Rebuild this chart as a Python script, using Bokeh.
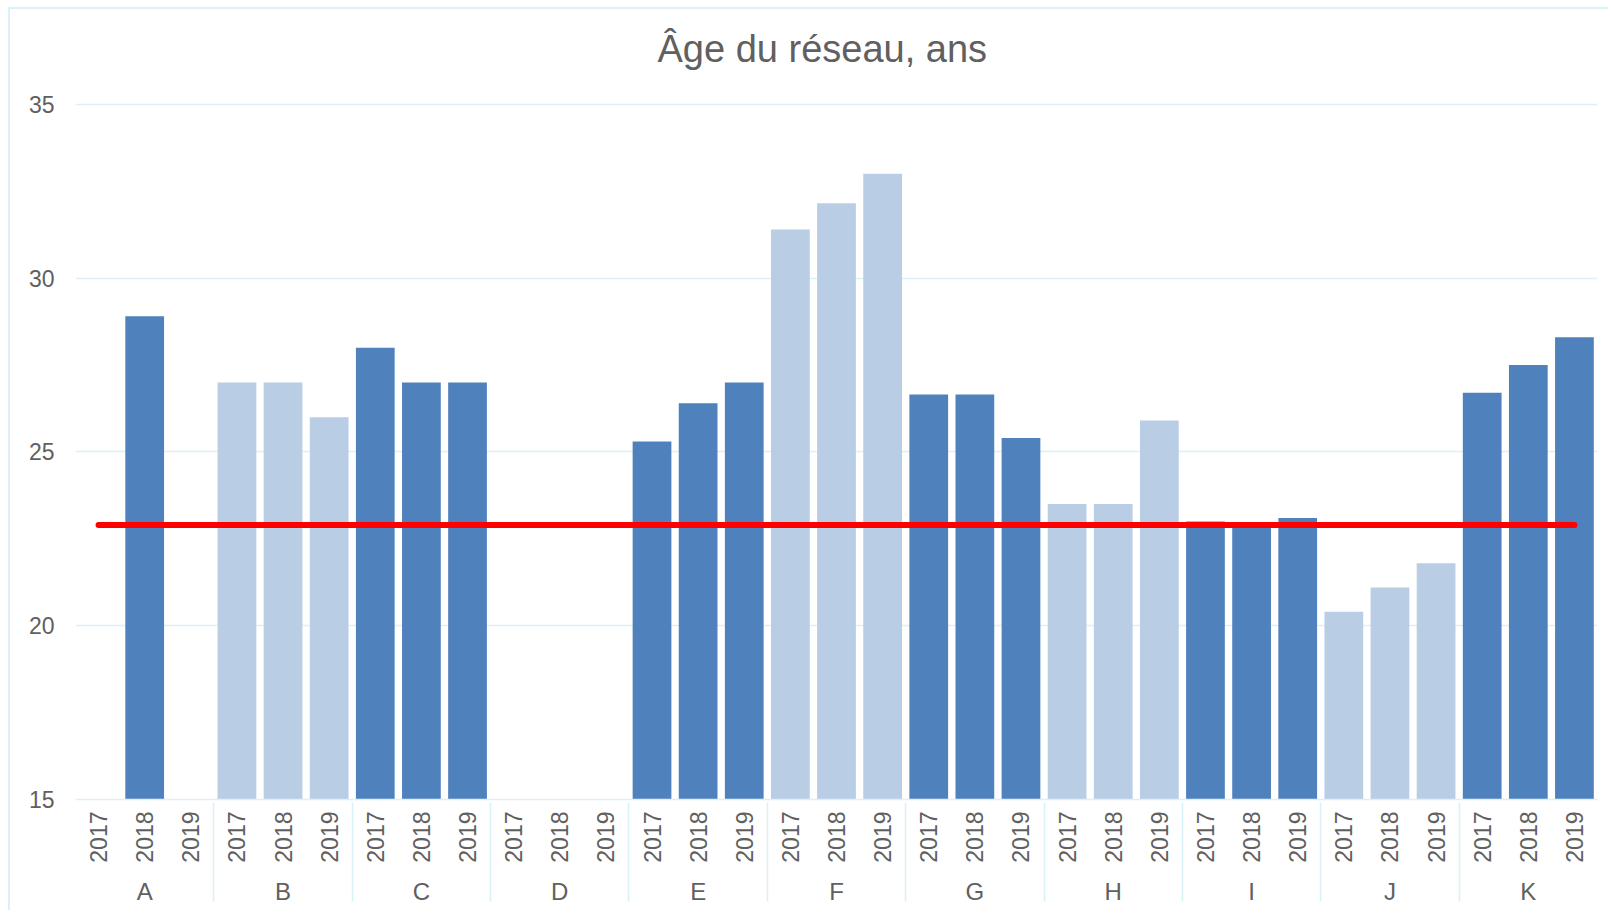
import math
from bokeh.plotting import figure
from bokeh.models import FactorRange, Range1d, FixedTicker, ColumnDataSource, BoxAnnotation
from bokeh.embed import file_html
from bokeh.resources import INLINE

# ---- data ----
groups = ["A", "B", "C", "D", "E", "F", "G", "H", "I", "J", "K"]
years = ["2017", "2018", "2019"]
values = {
    "A": [None, 28.9, None],
    "B": [27.0, 27.0, 26.0],
    "C": [28.0, 27.0, 27.0],
    "D": [None, None, None],
    "E": [25.3, 26.4, 27.0],
    "F": [31.4, 32.15, 33.0],
    "G": [26.65, 26.65, 25.4],
    "H": [23.5, 23.5, 25.9],
    "I": [23.0, 22.9, 23.1],
    "J": [20.4, 21.1, 21.8],
    "K": [26.7, 27.5, 28.3],
}
light_groups = ["B", "D", "F", "H", "J"]
average_value = 22.9
y_ticks = [15, 20, 25, 30, 35]
title_text = "Âge du réseau, ans"

DARK = "#4f81bd"
LIGHT = "#b9cde5"
GRID = "#d9f2fa"
TEXT = "#606060"
FONT = "Liberation Sans"

factors = [(g, y) for g in groups for y in years]

bx, btop, bcol = [], [], []
for g in groups:
    for y, v in zip(years, values[g]):
        if v is None:
            continue
        bx.append((g, y))
        btop.append(v)
        bcol.append(LIGHT if g in light_groups else DARK)
bars = ColumnDataSource(dict(x=bx, top=btop, color=bcol))

W, H = 1600, 903
BL, BR, BT, BB = 65, 13, 67, 113

p = figure(
    x_range=FactorRange(*factors, factor_padding=0, group_padding=0, range_padding=0),
    y_range=Range1d(15, 35.8),
    width=W, height=H,
    output_backend="svg", toolbar_location=None,
    min_border_left=BL, min_border_right=BR, min_border_top=BT, min_border_bottom=BB,
    title=title_text,
)
p.styles = {
    "border-left": f"2px solid {GRID}",
    "border-top": f"2px solid {GRID}",
    "margin-left": "8px",
    "margin-top": "7px",
}
p.outline_line_color = None
p.background_fill_color = "white"
p.border_fill_color = "white"

p.vbar(x="x", top="top", bottom=15, width=0.84, fill_color="color", line_color=None, source=bars)

p.line(x=[factors[0], factors[-1]], y=[average_value, average_value],
       line_color="#ff0000", line_width=6, line_cap="round")

# edge lines of the category axis (left and right ends)
for cx in (BL, W - BR):
    p.add_layout(BoxAnnotation(left=cx - 0.75, right=cx + 0.75, top=H - BB, bottom=H,
                               left_units="canvas", right_units="canvas",
                               top_units="canvas", bottom_units="canvas",
                               fill_color=GRID, fill_alpha=1, line_color=None))

# title (centred over the whole chart area, not just the plot frame)
p.title.align = "left"
p.title.offset = 582
p.title.text_font = FONT
p.title.text_font_size = "38px"
p.title.text_font_style = "normal"
p.title.text_color = TEXT
p.title.standoff = 14

# y axis
p.yaxis.ticker = FixedTicker(ticks=y_ticks)
p.yaxis.axis_line_color = None
p.yaxis.major_tick_line_color = None
p.yaxis.minor_tick_line_color = None
p.yaxis.major_tick_out = 0
p.yaxis.major_tick_in = 0
p.yaxis.major_label_standoff = 21
p.yaxis.major_label_text_font = FONT
p.yaxis.major_label_text_font_size = "23px"
p.yaxis.major_label_text_color = TEXT

p.ygrid.grid_line_color = GRID
p.ygrid.grid_line_width = 1.5
p.xgrid.grid_line_color = None

# x axis
ax = p.xaxis[0]
ax.axis_line_color = GRID
ax.axis_line_width = 1.5
ax.major_tick_line_color = None
ax.minor_tick_line_color = None
ax.major_tick_out = 0
ax.major_tick_in = 0
ax.major_label_orientation = math.pi / 2
ax.major_label_standoff = 12
ax.major_label_text_font = FONT
ax.major_label_text_font_size = "23px"
ax.major_label_text_color = TEXT
ax.group_label_orientation = "horizontal"
ax.group_text_font = FONT
ax.group_text_font_size = "24px"
ax.group_text_font_style = "normal"
ax.group_text_color = TEXT
ax.separator_line_color = GRID
ax.separator_line_width = 1.5

open("out.html", "w").write(file_html(p, INLINE))
